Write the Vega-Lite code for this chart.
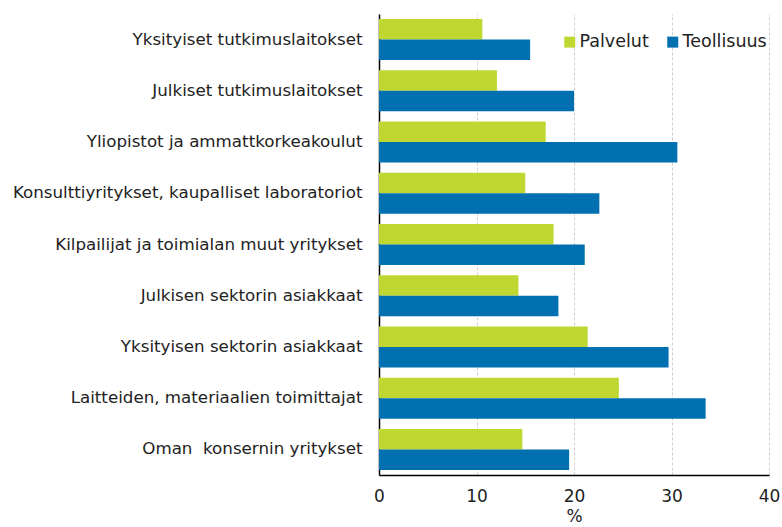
{
  "$schema": "https://vega.github.io/schema/vega-lite/v6.json",
  "autosize": "none",
  "width": 390,
  "height": 461,
  "padding": {"left": 379, "top": 14, "right": 13, "bottom": 52},
  "background": "white",
  "config": {
    "font": "DejaVu Sans",
    "view": {"stroke": null}
  },
  "data": {
    "values": [
      {"kategoria": "Yksityiset tutkimuslaitokset", "sektori": "Palvelut", "arvo": 10.6},
      {"kategoria": "Yksityiset tutkimuslaitokset", "sektori": "Teollisuus", "arvo": 15.5},
      {"kategoria": "Julkiset tutkimuslaitokset", "sektori": "Palvelut", "arvo": 12.1},
      {"kategoria": "Julkiset tutkimuslaitokset", "sektori": "Teollisuus", "arvo": 20.0},
      {"kategoria": "Yliopistot ja ammattkorkeakoulut", "sektori": "Palvelut", "arvo": 17.1},
      {"kategoria": "Yliopistot ja ammattkorkeakoulut", "sektori": "Teollisuus", "arvo": 30.6},
      {"kategoria": "Konsulttiyritykset, kaupalliset laboratoriot\u00a0", "sektori": "Palvelut", "arvo": 15.0},
      {"kategoria": "Konsulttiyritykset, kaupalliset laboratoriot\u00a0", "sektori": "Teollisuus", "arvo": 22.6},
      {"kategoria": "Kilpailijat ja toimialan muut yritykset", "sektori": "Palvelut", "arvo": 17.9},
      {"kategoria": "Kilpailijat ja toimialan muut yritykset", "sektori": "Teollisuus", "arvo": 21.1},
      {"kategoria": "Julkisen sektorin asiakkaat", "sektori": "Palvelut", "arvo": 14.3},
      {"kategoria": "Julkisen sektorin asiakkaat", "sektori": "Teollisuus", "arvo": 18.4},
      {"kategoria": "Yksityisen sektorin asiakkaat", "sektori": "Palvelut", "arvo": 21.4},
      {"kategoria": "Yksityisen sektorin asiakkaat", "sektori": "Teollisuus", "arvo": 29.7},
      {"kategoria": "Laitteiden, materiaalien toimittajat", "sektori": "Palvelut", "arvo": 24.6},
      {"kategoria": "Laitteiden, materiaalien toimittajat", "sektori": "Teollisuus", "arvo": 33.5},
      {"kategoria": "Oman\u00a0 konsernin yritykset", "sektori": "Palvelut", "arvo": 14.7},
      {"kategoria": "Oman\u00a0 konsernin yritykset", "sektori": "Teollisuus", "arvo": 19.5}
    ]
  },
  "mark": {"type": "bar"},
  "encoding": {
    "y": {
      "field": "kategoria",
      "type": "nominal",
      "sort": null,
      "scale": {"paddingInner": 0.2, "paddingOuter": 0.1},
      "axis": {
        "title": null,
        "ticks": false,
        "domainColor": "black",
        "domainWidth": 1.5,
        "labelFontSize": 16.7,
        "labelColor": "#222222",
        "labelPadding": 17,
        "labelLimit": 400
      }
    },
    "yOffset": {"field": "sektori", "type": "nominal", "sort": ["Palvelut", "Teollisuus"]},
    "x": {
      "field": "arvo",
      "type": "quantitative",
      "scale": {"domain": [0, 40]},
      "axis": {
        "title": "%",
        "titleFontSize": 17,
        "titleFontWeight": "normal",
        "titleColor": "#222222",
        "titlePadding": 4,
        "values": [0, 10, 20, 30, 40],
        "ticks": false,
        "domainColor": "black",
        "domainWidth": 1.5,
        "labelFontSize": 17,
        "labelColor": "#222222",
        "labelPadding": 13,
        "labelFlush": false,
        "gridColor": "#cfcfcf",
        "gridDash": [3, 2],
        "gridWidth": 1
      }
    },
    "color": {
      "field": "sektori",
      "type": "nominal",
      "scale": {"domain": ["Palvelut", "Teollisuus"], "range": ["#bfd730", "#0070b0"]},
      "legend": {
        "title": null,
        "orient": "none",
        "legendX": 182,
        "legendY": 19,
        "direction": "horizontal",
        "symbolType": "square",
        "symbolSize": 121,
        "labelFontSize": 17.5,
        "labelColor": "#222222",
        "columnPadding": 15,
        "labelOffset": 1
      }
    }
  }
}
